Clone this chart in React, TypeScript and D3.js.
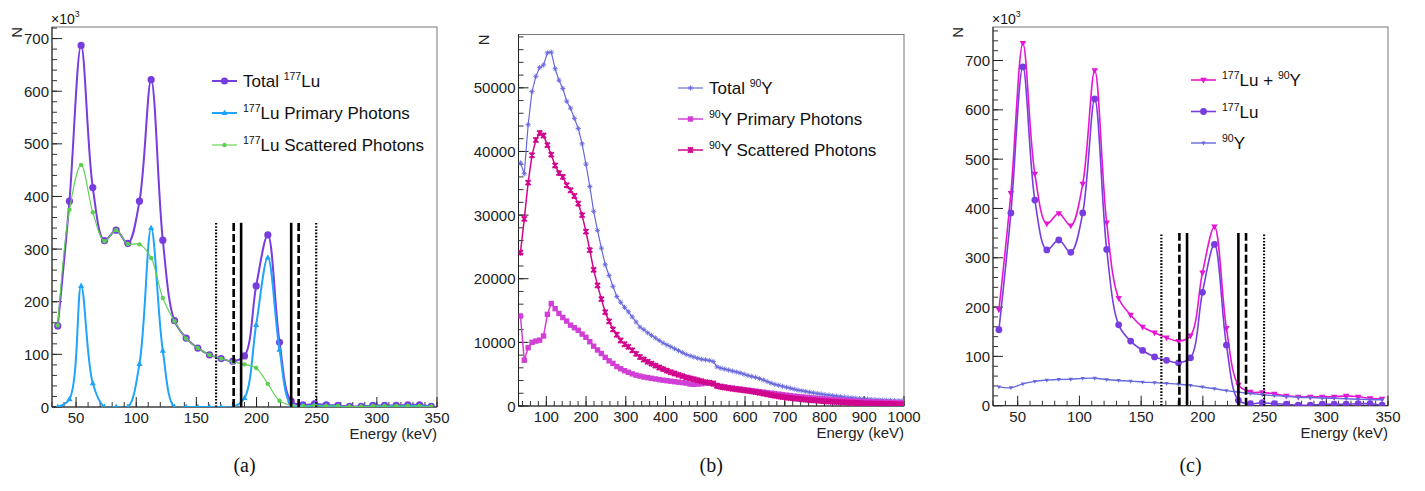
import React from 'react';
import * as d3 from 'd3';

// bin centres (keV) of the 177Lu spectra, 33 bins from 30 to 350
const luEnergy = [
  34.8, 44.5, 54.2, 63.9, 73.6, 83.3, 93.0, 102.7, 112.4, 122.1, 131.8, 141.5, 151.2, 160.9, 170.6, 180.3, 190.0,
  199.7, 209.4, 219.1, 228.8, 238.5, 248.2, 257.9, 267.6, 277.3, 287.0, 296.7, 306.4, 316.1, 325.8, 335.5, 345.2,
];
// counts in thousands
const luTotal = [154, 391, 687, 417, 316, 336, 311, 391, 622, 317, 164, 131, 112, 99, 92, 87, 97, 230, 327, 123, 11, 4, 6, 4, 3, 1, 1, 3, 3, 3, 4, 4, 1];
const luPrimary = [0, 15, 230, 45, 0, 0, 0, 82, 340, 107, 0, 0, 0, 0, 0, 0, 17, 156, 284, 109, 4, 2, 3, 2, 1, 0, 0, 1, 1, 1, 2, 2, 0];
const luScattered = [155, 375, 460, 370, 315, 336, 310, 309, 283, 207, 163, 130, 112, 99, 92, 86, 81, 74, 44, 12, 3, 2, 3, 2, 2, 1, 1, 2, 2, 2, 2, 2, 1];
const luPlusY = [195, 431, 735, 470, 369, 390, 365, 450, 680, 371, 218, 184, 160, 148, 138, 131, 142, 270, 363, 157, 42, 28, 27, 24, 20, 18, 18, 18, 18, 20, 18, 15, 14];

// bin centres (keV) of the 90Y spectra, 100 bins from 30 to 1000
const yEnergy = [
  34.85, 44.55, 54.25, 63.95, 73.65, 83.35, 93.05, 102.75, 112.45, 122.15,
  131.85, 141.55, 151.25, 160.95, 170.65, 180.35, 190.05, 199.75, 209.45, 219.15,
  228.85, 238.55, 248.25, 257.95, 267.65, 277.35, 287.05, 296.75, 306.45, 316.15,
  325.85, 335.55, 345.25, 354.95, 364.65, 374.35, 384.05, 393.75, 403.45, 413.15,
  422.85, 432.55, 442.25, 451.95, 461.65, 471.35, 481.05, 490.75, 500.45, 510.15,
  519.85, 529.55, 539.25, 548.95, 558.65, 568.35, 578.05, 587.75, 597.45, 607.15,
  616.85, 626.55, 636.25, 645.95, 655.65, 665.35, 675.05, 684.75, 694.45, 704.15,
  713.85, 723.55, 733.25, 742.95, 752.65, 762.35, 772.05, 781.75, 791.45, 801.15,
  810.85, 820.55, 830.25, 839.95, 849.65, 859.35, 869.05, 878.75, 888.45, 898.15,
  907.85, 917.55, 927.25, 936.95, 946.65, 956.35, 966.05, 975.75, 985.45, 995.15,
];
const yTotal = [
  38200, 36500, 44200, 49400, 51800, 53200, 53600, 55500, 55600, 53000,
  51200, 49900, 47900, 46800, 45200, 43600, 41200, 38000, 34500, 30600,
  27600, 24800, 22200, 20500, 18800, 17200, 16300, 15500, 14800, 14000,
  13200, 12400, 12000, 11500, 11100, 10700, 10300, 9900, 9600, 9300,
  9000, 8700, 8400, 8100, 7900, 7700, 7500, 7350, 7250, 7150,
  7000, 6150, 5950, 5800, 5650, 5500, 5350, 5200, 5000, 4800,
  4650, 4500, 4300, 4100, 3850, 3600, 3400, 3250, 3100, 2950,
  2800, 2650, 2500, 2400, 2280, 2170, 2060, 1960, 1870, 1780,
  1700, 1620, 1540, 1470, 1400, 1340, 1280, 1220, 1170, 1120,
  1080, 1040, 1000, 960, 930, 900, 870, 850, 830, 810,
];
const yPrimary = [
  14150, 7200, 9150, 10000, 10200, 10350, 11000, 14400, 16100, 15300,
  14550, 13900, 13350, 12700, 12300, 11900, 11300, 10800, 10100, 9400,
  8800, 8250, 7650, 7100, 6700, 6200, 5850, 5550, 5300, 5050,
  4850, 4700, 4550, 4450, 4350, 4250, 4150, 4050, 3980, 3900,
  3820, 3750, 3680, 3600, 3450, 3400, 3450, 3500, 3600, 3650,
  3550, 3250, 3100, 3000, 2900, 2820, 2740, 2660, 2580, 2500,
  2420, 2340, 2260, 2180, 2100, 2020, 1940, 1860, 1780, 1700,
  1630, 1560, 1490, 1430, 1370, 1310, 1250, 1200, 1150, 1100,
  1050, 1000, 960, 920, 880, 840, 800, 770, 740, 710,
  680, 650, 630, 610, 590, 570, 555, 540, 530, 520,
];
const yScattered = [
  24100, 29400, 35100, 39400, 41800, 42900, 42500, 41000, 39500, 37800,
  36600, 36000, 34700, 33900, 33000, 31800, 30000, 27400, 24500, 21400,
  18950, 16800, 14750, 13300, 12050, 11200, 10300, 9700, 9300, 8750,
  8200, 7700, 7300, 6950, 6650, 6350, 6050, 5800, 5550, 5300,
  5100, 4900, 4700, 4500, 4350, 4200, 4050, 3900, 3750, 3650,
  3500, 3150, 3000, 2900, 2800, 2700, 2620, 2540, 2460, 2380,
  2290, 2190, 2080, 1960, 1840, 1720, 1610, 1510, 1420, 1340,
  1260, 1190, 1120, 1060, 1000, 945, 895, 845, 800, 755,
  715, 675, 640, 605, 570, 540, 510, 480, 455, 430,
  410, 390, 370, 350, 335, 320, 305, 290, 275, 265,
];

// energy window edges (keV): 20 %, 13 %, 10 % around 208 keV
const windowEdges = [166.4, 181.0, 187.2, 228.8, 235.0, 249.6];
const windowStyles = ['dot', 'dash', 'solid', 'solid', 'dash', 'dot'];
const windowTop = 350;

const luXTicks = [50, 100, 150, 200, 250, 300, 350];
const luYTicks = [0, 100, 200, 300, 400, 500, 600, 700];
const yXTicks = [100, 200, 300, 400, 500, 600, 700, 800, 900, 1000];
const yYTicks = [0, 10000, 20000, 30000, 40000, 50000];

const FONT = '"Liberation Sans", Arial, Helvetica, sans-serif';

type Part = [string, boolean];

const Rich = ({ x, y, parts, size }: { x: number; y: number; parts: Part[]; size: number }) => {
  let cur = 0;
  return (
    <text x={x} y={y} fontSize={size} fontFamily={FONT} fill="#111" style={{ whiteSpace: 'pre' }}>
      {parts.map(([t, sup], i) => {
        const target = sup ? -7 : 0;
        const dy = target - cur;
        cur = target;
        return (
          <tspan key={i} dy={dy} fontSize={sup ? size * 0.62 : size}>
            {t}
          </tspan>
        );
      })}
    </text>
  );
};

const marker = (kind: string, x: number, y: number, color: string, s: number, key: any) => {
  switch (kind) {
    case 'circle':
      return <circle key={key} cx={x} cy={y} r={s} fill={color} />;
    case 'triUp':
      return <polygon key={key} points={`${x},${y - s} ${x + s * 0.9},${y + s * 0.6} ${x - s * 0.9},${y + s * 0.6}`} fill={color} />;
    case 'triDown':
      return <polygon key={key} points={`${x},${y + s} ${x + s * 0.9},${y - s * 0.6} ${x - s * 0.9},${y - s * 0.6}`} fill={color} />;
    case 'square':
      return <rect key={key} x={x - s} y={y - s} width={s * 2} height={s * 2} fill={color} />;
    case 'star':
      return (
        <path
          key={key}
          d={`M${x - s},${y}L${x + s},${y}M${x},${y - s}L${x},${y + s}M${x - s * 0.7},${y - s * 0.7}L${x + s * 0.7},${y + s * 0.7}M${x - s * 0.7},${y + s * 0.7}L${x + s * 0.7},${y - s * 0.7}`}
          stroke={color}
          strokeWidth={0.9}
        />
      );
    case 'cross':
      return (
        <path
          key={key}
          d={`M${x},${y - s}L${x},${y + s}M${x - s * 0.85},${y - s * 0.85}L${x + s * 0.85},${y + s * 0.85}M${x - s * 0.85},${y + s * 0.85}L${x + s * 0.85},${y - s * 0.85}`}
          stroke={color}
          strokeWidth={1.8}
        />
      );
    default:
      return null;
  }
};

type Series = { values: number[]; color: string; width: number; kind: string; size: number; label: Part[] };

type PanelProps = {
  id: string;
  box: [number, number, number, number];
  xDomain: [number, number];
  yMax: number;
  energies: number[];
  series: Series[];
  xTicks: number[];
  yTicks: number[];
  xMinor: number;
  yMinor: number;
  smooth: boolean;
  legend: [number, number, number];
  windows: boolean;
  exponent: boolean;
  caption: string;
};

const Panel = (p: PanelProps) => {
  const [x0, x1, y0, y1] = p.box;
  const x = d3.scaleLinear().domain(p.xDomain).range([x0, x1]);
  const y = d3.scaleLinear().domain([0, p.yMax]).range([y1, y0]);
  const line = d3
    .line<number>()
    .x((_, i) => x(p.energies[i]))
    .y(d => y(d))
    .curve(p.smooth ? d3.curveCatmullRom.alpha(0.5) : d3.curveLinear);
  const xMinorTicks = d3.range(Math.ceil(p.xDomain[0] / p.xMinor) * p.xMinor, p.xDomain[1] + 0.1, p.xMinor);
  const yMinorTicks = d3.range(0, p.yMax, p.yMinor);
  const [lx, ly, gap] = p.legend;
  return (
    <g>
      <defs>
        <clipPath id={`clip-${p.id}`}>
          <rect x={x0} y={y0} width={x1 - x0} height={y1 - y0} />
        </clipPath>
      </defs>
      <rect x={x0} y={y0} width={x1 - x0} height={y1 - y0} fill="none" stroke="#777" strokeWidth={1} />
      {/* axes */}
      <line x1={x0} x2={x0} y1={y0} y2={y1} stroke="#222" />
      <line x1={x0} x2={x1} y1={y1} y2={y1} stroke="#222" />
      {yMinorTicks.map(v => (
        <line key={`ym${v}`} x1={x0} x2={x0 + 5} y1={y(v)} y2={y(v)} stroke="#333" />
      ))}
      {p.yTicks.map(v => (
        <g key={`y${v}`}>
          <line x1={x0} x2={x0 + 10} y1={y(v)} y2={y(v)} stroke="#222" />
          <text x={x0 - 3} y={y(v) + 5.5} textAnchor="end" fontSize={15} fontFamily={FONT} fill="#222">
            {v}
          </text>
        </g>
      ))}
      {xMinorTicks.map(v => (
        <line key={`xm${v}`} x1={x(v)} x2={x(v)} y1={y1} y2={y1 - 5} stroke="#333" />
      ))}
      {p.xTicks.map(v => (
        <g key={`x${v}`}>
          <line x1={x(v)} x2={x(v)} y1={y1} y2={y1 - 10} stroke="#222" />
          <text x={x(v)} y={y1 + 16} textAnchor="middle" fontSize={15} fontFamily={FONT} fill="#222">
            {v}
          </text>
        </g>
      ))}
      <text x={x1} y={y1 + 32} textAnchor="end" fontSize={15} fontFamily={FONT} fill="#222">
        Energy (keV)
      </text>
      <text
        transform={`translate(${x0 - 30},${y0}) rotate(-90)`}
        textAnchor="end"
        fontSize={15}
        fontFamily={FONT}
        fill="#222"
      >
        N
      </text>
      {p.exponent && <Rich x={x0 - 1} y={y0 - 3} parts={[['×10', false], ['3', true]]} size={14} />}
      {/* curves */}
      <g clipPath={`url(#clip-${p.id})`}>
        {p.series.map((s, si) => (
          <g key={si}>
            <path d={line(s.values) || ''} fill="none" stroke={s.color} strokeWidth={s.width} />
            {s.values.map((v, i) => marker(s.kind, x(p.energies[i]), y(v), s.color, s.size, i))}
          </g>
        ))}
        {p.windows &&
          windowEdges.map((e, i) => (
            <line
              key={`w${i}`}
              x1={x(e)}
              x2={x(e)}
              y1={y(0)}
              y2={y(windowTop)}
              stroke="#000"
              strokeWidth={windowStyles[i] === 'dot' ? 2.2 : 2.6}
              strokeDasharray={windowStyles[i] === 'dot' ? '1.6,1.6' : windowStyles[i] === 'dash' ? '8,3' : undefined}
            />
          ))}
      </g>
      {/* legend */}
      {p.series.map((s, i) => (
        <g key={`l${i}`}>
          <line x1={lx} x2={lx + 25} y1={ly + i * gap} y2={ly + i * gap} stroke={s.color} strokeWidth={s.width} />
          {marker(s.kind, lx + 12.5, ly + i * gap, s.color, s.size, 'm')}
          <Rich x={lx + 31} y={ly + i * gap + 6} parts={s.label} size={17} />
        </g>
      ))}
      <text
        x={(x0 + x1) / 2}
        y={472}
        textAnchor="middle"
        fontSize={20}
        fontFamily='"Liberation Serif", "Times New Roman", serif'
        fill="#111"
      >
        {p.caption}
      </text>
    </g>
  );
};

const PURPLE = '#773ddf';
const LIGHTBLUE = '#1ea5fb';
const GREEN = '#5ccf4f';
const SLATE = '#6868dc';
const ORCHID = '#d23fd6';
const DEEPPINK = '#d1068e';
const MAGENTA = '#e615d4';

const App = () => {
  const yInLu = yTotal.slice(0, luEnergy.length).map(v => v / 1000);
  const lu: Part[] = [['177', true], ['Lu', false]];
  return (
    <svg width={1425} height={491} style={{ position: 'absolute', left: 0, top: 0, background: '#fff' }}>
      <rect width={1425} height={491} fill="#fff" />
      <Panel
        id="a"
        box={[52, 437, 27, 407]}
        xDomain={[30, 350]}
        yMax={722}
        energies={luEnergy}
        series={[
          { values: luTotal, color: PURPLE, width: 2, kind: 'circle', size: 3.6, label: [['Total ', false], ...lu] },
          { values: luPrimary, color: LIGHTBLUE, width: 2, kind: 'triUp', size: 3.4, label: [['177', true], ['Lu Primary Photons', false]] },
          { values: luScattered, color: GREEN, width: 1.1, kind: 'circle', size: 2.2, label: [['177', true], ['Lu Scattered Photons', false]] },
        ]}
        xTicks={luXTicks}
        yTicks={luYTicks}
        xMinor={10}
        yMinor={20}
        smooth={true}
        legend={[212, 81, 32]}
        windows={true}
        exponent={true}
        caption="(a)"
      />
      <Panel
        id="b"
        box={[518.5, 904, 34.5, 406]}
        xDomain={[30, 1000]}
        yMax={58380}
        energies={yEnergy}
        series={[
          { values: yTotal, color: SLATE, width: 1.2, kind: 'star', size: 2.6, label: [['Total ', false], ['90', true], ['Y', false]] },
          { values: yPrimary, color: ORCHID, width: 1.5, kind: 'square', size: 2.7, label: [['90', true], ['Y Primary Photons', false]] },
          { values: yScattered, color: DEEPPINK, width: 1.5, kind: 'cross', size: 3, label: [['90', true], ['Y Scattered Photons', false]] },
        ]}
        xTicks={yXTicks}
        yTicks={yYTicks}
        xMinor={20}
        yMinor={2000}
        smooth={false}
        legend={[678, 88, 31]}
        windows={false}
        exponent={false}
        caption="(b)"
      />
      <Panel
        id="c"
        box={[993, 1388, 27, 405.7]}
        xDomain={[30, 350]}
        yMax={768}
        energies={luEnergy}
        series={[
          { values: luPlusY, color: MAGENTA, width: 1.6, kind: 'triDown', size: 3.6, label: [...lu, [' + ', false], ['90', true], ['Y', false]] },
          { values: luTotal, color: PURPLE, width: 1.6, kind: 'circle', size: 3.4, label: lu },
          { values: yInLu, color: SLATE, width: 1.4, kind: 'triDown', size: 2.4, label: [['90', true], ['Y', false]] },
        ]}
        xTicks={luXTicks}
        yTicks={luYTicks}
        xMinor={10}
        yMinor={20}
        smooth={true}
        legend={[1191, 80, 31.5]}
        windows={true}
        exponent={true}
        caption="(c)"
      />
    </svg>
  );
};

export default App;
